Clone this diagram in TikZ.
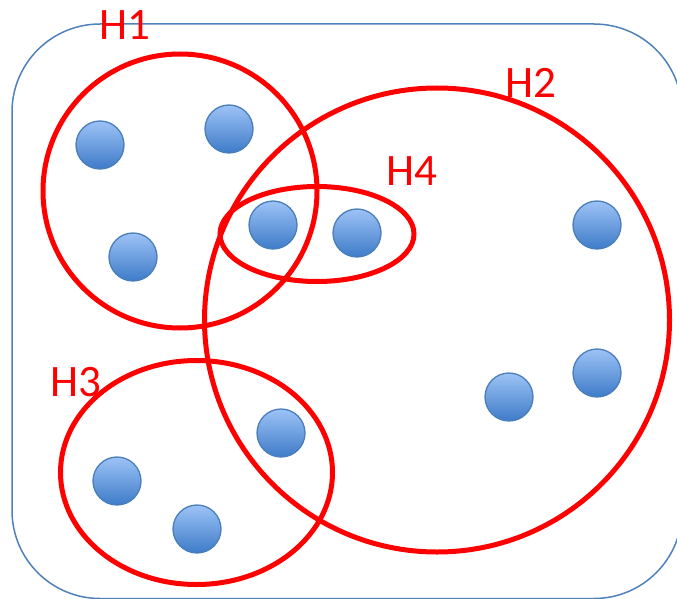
\documentclass[tikz,border=0pt]{standalone}
\usepackage{fontspec}
\setmainfont{Carlito}
\usetikzlibrary{shapes.geometric}
\definecolor{frameblue}{RGB}{79,129,189}
\definecolor{dottop}{RGB}{157,195,246}
\definecolor{dotbot}{RGB}{62,123,200}
\definecolor{dotline}{RGB}{74,126,187}
\definecolor{hred}{RGB}{255,0,0}
\tikzset{
  vtx/.style={circle, minimum size=48pt, inner sep=0pt, draw=dotline, line width=1.3pt,
              top color=dottop, bottom color=dotbot},
  hedge/.style={ellipse, draw=hred, line width=5pt, inner sep=0pt},
  hlabel/.style={text=hred, inner sep=0pt, font=\fontsize{45}{54}\selectfont},
  frame/.style={draw=frameblue, line width=1.5pt, rounded corners=88pt}
}
\begin{document}
\begin{tikzpicture}[x=1pt,y=-1pt]
\useasboundingbox (0,0) rectangle (677,599);
\fill[white] (0,0) rectangle (677,599);
\draw[frame] (12,24) rectangle (682,598.5);
% hyperedges
\node[hedge, minimum width=274pt, minimum height=274pt] (H1) at (180,191) {};
\node[hedge, minimum width=465pt, minimum height=464pt] (H2) at (437,320) {};
\node[hedge, minimum width=194pt, minimum height=95pt] (H4) at (317,234) {};
\node[hedge, minimum width=272pt, minimum height=224pt] (H3) at (196.5,472.5) {};
% labels
\node[hlabel] (l1) at (125,25) {H1};
\node[hlabel] (l2) at (531,83) {H2};
\node[hlabel] (l4) at (412,171) {H4};
\node[hlabel] (l3) at (76,382) {H3};
% vertices
\node[vtx] (v1) at (100,145) {};
\node[vtx] (v2) at (229,129) {};
\node[vtx] (v3) at (133,257) {};
\node[vtx] (v4) at (273,225) {};
\node[vtx] (v5) at (357,233) {};
\node[vtx] (v6) at (597,225) {};
\node[vtx] (v7) at (597,373) {};
\node[vtx] (v8) at (509,397) {};
\node[vtx] (v9) at (281,433) {};
\node[vtx] (v10) at (117,481) {};
\node[vtx] (v11) at (197,529) {};
\end{tikzpicture}
\end{document}
